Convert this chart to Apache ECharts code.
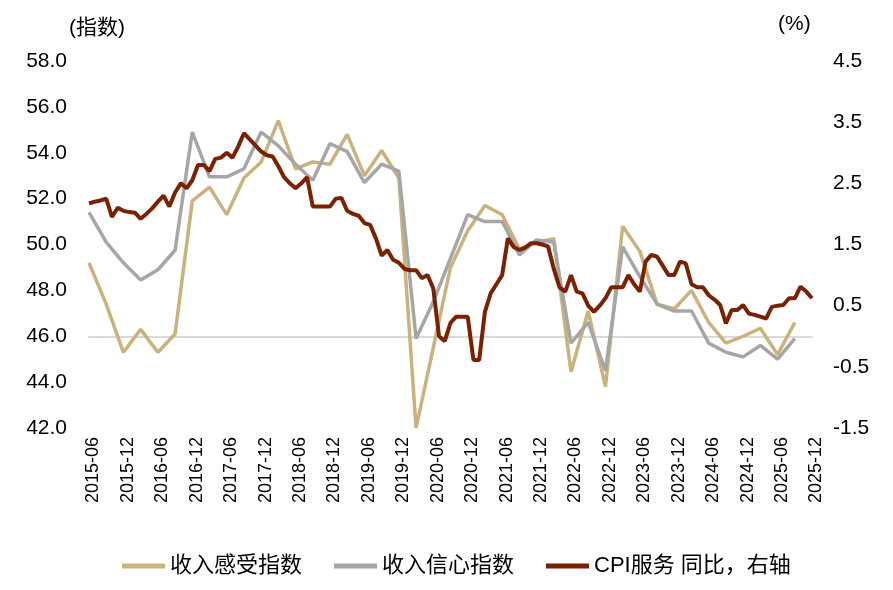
<!DOCTYPE html>
<html lang="zh">
<head>
<meta charset="UTF-8">
<title>收入感受、收入信心与CPI服务</title>
<script src="https://cdn.jsdelivr.net/npm/echarts@6.0.0/dist/echarts.min.js"></script>
<style>
    html, body { margin: 0; padding: 0; background: #fff; }
    #chart { width: 893px; height: 590px; }
</style>
</head>
<body>
<div id="chart"></div>
<script>
    // 月度类目 2015-06 ~ 2025-12
    var months = [];
    for (var y = 2015; y <= 2025; y++) {
        for (var mo = 1; mo <= 12; mo++) {
            if (y == 2015 && mo < 6) continue;
            months.push(y + '-' + (mo < 10 ? '0' + mo : mo));
        }
    }
    // 季度末月份 2015-06 ~ 2025-09
    var quarters = [];
    for (var i = 0; i < months.length; i += 3) {
        if (months[i] <= '2025-09') quarters.push(months[i]);
    }

    // 收入感受指数（季度）
    var incomeFeel = [49.2, 47.4, 45.3, 46.3, 45.3, 46.1, 51.9, 52.5, 51.3, 52.9,
        53.6, 55.4, 53.3, 53.6, 53.5, 54.8, 53.0, 54.1, 52.9, 42.0,
        45.5, 49.0, 50.6, 51.7, 51.3, 49.8, 50.1, 50.25, 44.45, 47.1,
        43.8, 50.8, 49.7, 47.4, 47.2, 48.0, 46.6, 45.7, 46.0, 46.35,
        45.2, 46.6];
    // 收入信心指数（季度）
    var incomeConf = [51.4, 50.1, 49.2, 48.45, 48.9, 49.75, 54.9, 52.95, 52.95, 53.3,
        54.9, 54.3, 53.5, 52.8, 54.4, 54.05, 52.7, 53.5, 53.2, 45.9,
        47.5, 49.4, 51.3, 51.0, 51.0, 49.55, 50.2, 50.1, 45.7, 46.6,
        44.5, 49.9, 48.6, 47.4, 47.1, 47.1, 45.7, 45.3, 45.1, 45.6,
        45.0, 45.9];
    // CPI服务 同比（月度，%）
    var cpiService = [2.17, 2.2, 2.22, 2.25, 1.95, 2.1, 2.05, 2.03, 2.02, 1.92,
        2.0, 2.09, 2.2, 2.3, 2.12, 2.35, 2.5, 2.42, 2.55, 2.8,
        2.8, 2.7, 2.9, 2.92, 3.0, 2.92, 3.1, 3.32, 3.22, 3.12,
        3.02, 2.96, 2.94, 2.78, 2.6, 2.5, 2.42, 2.5, 2.6, 2.12,
        2.12, 2.12, 2.12, 2.25, 2.26, 2.05, 2.0, 1.97, 1.85, 1.82,
        1.6, 1.32, 1.41, 1.25, 1.2, 1.1, 1.08, 1.08, 0.95, 1.0,
        0.78, 0.0, -0.08, 0.22, 0.32, 0.32, 0.32, -0.39, -0.39, 0.4,
        0.7, 0.85, 1.0, 1.6, 1.46, 1.41, 1.45, 1.52, 1.52, 1.5,
        1.47, 1.1, 0.8, 0.73, 1.0, 0.73, 0.7, 0.5, 0.4, 0.5,
        0.62, 0.8, 0.8, 0.8, 1.0, 0.85, 0.73, 1.22, 1.33, 1.3,
        1.15, 1.0, 1.0, 1.22, 1.19, 0.85, 0.8, 0.8, 0.67, 0.6,
        0.51, 0.21, 0.43, 0.43, 0.51, 0.37, 0.35, 0.32, 0.29, 0.48,
        0.5, 0.51, 0.62, 0.62, 0.81, 0.73, 0.62];

    var FONT = '"Liberation Sans", Arial, "Noto Sans CJK SC", sans-serif';
    var tanColor = '#C9B27C', grayColor = '#A6A6A6', redColor = '#7B2100';

    function pairs(keys, vals) {
        var out = [];
        for (var i = 0; i < keys.length; i++) out.push([keys[i], vals[i]]);
        return out;
    }

    var myChart = echarts.init(document.getElementById('chart'));
    var option = {
        animation: false,
        textStyle: { fontFamily: FONT },
        grid: { left: 89, right: 81, top: 61, bottom: 162 },
        legend: {
            left: 117,
            top: 550,
            icon: 'rect',
            itemWidth: 43,
            itemHeight: 5,
            itemGap: 32,
            textStyle: { fontSize: 22, color: '#000', fontFamily: FONT },
            data: ['收入感受指数', '收入信心指数', 'CPI服务 同比，右轴']
        },
        graphic: [
            { type: 'text', left: 69, top: 18, style: { text: '(指数)', font: '21px ' + FONT, fill: '#000' } },
            { type: 'text', left: 778, top: 14, style: { text: '(%)', font: '21px ' + FONT, fill: '#000' } }
        ],
        xAxis: {
            type: 'category',
            data: months,
            boundaryGap: false,
            axisLine: { lineStyle: { color: '#D9D9D9', width: 2 } },
            axisTick: { show: false },
            axisLabel: {
                interval: 5,
                rotate: 90,
                margin: 9,
                verticalAlign: 'top',
                lineHeight: 9,
                fontSize: 18,
                color: '#000'
            }
        },
        yAxis: [
            {
                type: 'value',
                min: 42, max: 58, interval: 2,
                axisLine: { show: false },
                axisTick: { show: false },
                splitLine: { show: false },
                axisLabel: {
                    margin: 22, fontSize: 21, color: '#000',
                    formatter: function (v) { return v.toFixed(1); }
                }
            },
            {
                type: 'value',
                position: 'right',
                min: -1.5, max: 4.5, interval: 1,
                axisLine: { show: false },
                axisTick: { show: false },
                splitLine: { show: false },
                axisLabel: {
                    margin: 21, fontSize: 21, color: '#000',
                    formatter: function (v) { return v.toFixed(1); }
                }
            }
        ],
        series: [
            {
                name: '收入感受指数', type: 'line', yAxisIndex: 0,
                showSymbol: false, color: tanColor,
                lineStyle: { width: 3.5, color: tanColor },
                data: pairs(quarters, incomeFeel), z: 2
            },
            {
                name: '收入信心指数', type: 'line', yAxisIndex: 0,
                showSymbol: false, color: grayColor,
                lineStyle: { width: 3.5, color: grayColor },
                data: pairs(quarters, incomeConf), z: 3
            },
            {
                name: 'CPI服务 同比，右轴', type: 'line', yAxisIndex: 1,
                showSymbol: false, color: redColor,
                lineStyle: { width: 4, color: redColor },
                data: cpiService, z: 4
            }
        ]
    };
    myChart.setOption(option);
</script>
</body>
</html>
